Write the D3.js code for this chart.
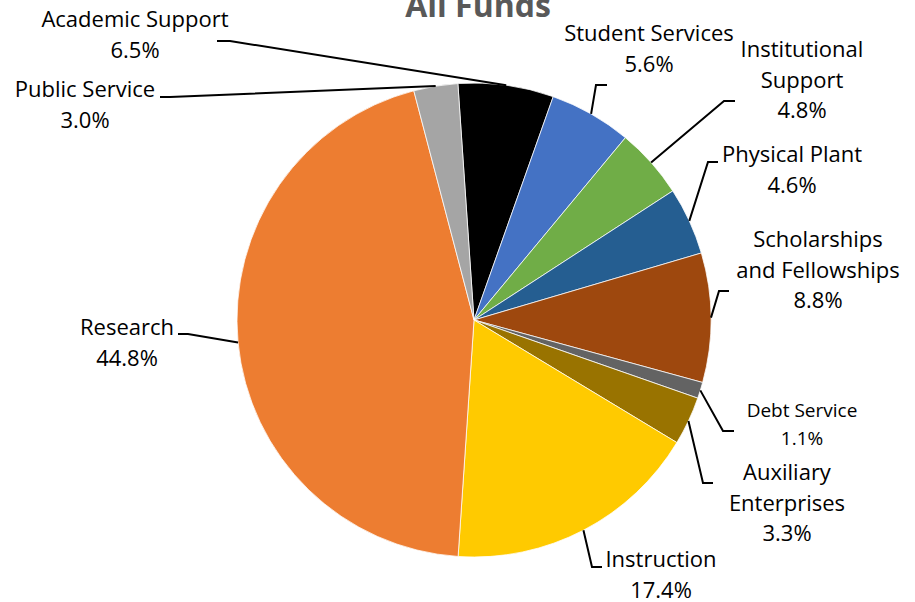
<!DOCTYPE html>
<html>
<head>
<meta charset="utf-8">
<script src="https://cdn.jsdelivr.net/npm/d3@7"></script>
<style>
  html, body { margin: 0; padding: 0; background: #fff; }
  svg { display: block; }
  text { font-family: "Open Sans", sans-serif; }
</style>
</head>
<body>
<svg id="chart" width="915" height="602"></svg>
<script>
// ---- data ----
const categories = ["Academic Support", "Student Services", "Institutional Support", "Physical Plant",
  "Scholarships and Fellowships", "Debt Service", "Auxiliary Enterprises", "Instruction", "Research", "Public Service"];
const values = [6.5, 5.6, 4.8, 4.6, 8.8, 1.1, 3.3, 17.4, 44.8, 3.0];
const labelLines = [["Academic Support"], ["Student Services"], ["Institutional", "Support"], ["Physical Plant"],
  ["Scholarships", "and Fellowships"], ["Debt Service"], ["Auxiliary", "Enterprises"], ["Instruction"], ["Research"], ["Public Service"]];
const colors = ["#000000", "#4472C4", "#70AD47", "#255E91", "#9E480E", "#636363", "#997300", "#FFCA00", "#ED7D31", "#A5A5A5"];
const title = "All Funds";

// ---- layout (positions only) ----
const cx = 474, cy = 320, R = 237;
const startDeg = -3.9;
// text center x, first baseline y, line height, font size, stub point, elbow point
const labelLayout = [
  { x: 135, y: 27, lh: 30.5, fs: 22, stub: [217, 41], elbow: [230, 41] },
  { x: 649, y: 41, lh: 30.5, fs: 22, stub: [607, 85], elbow: [596, 85] },
  { x: 802, y: 57, lh: 30.5, fs: 22, stub: [735, 101], elbow: [724, 101] },
  { x: 792, y: 162, lh: 30.5, fs: 22, stub: [718, 162], elbow: [708, 162] },
  { x: 818, y: 247, lh: 30.5, fs: 22, stub: [729, 291], elbow: [719, 291] },
  { x: 802, y: 417, lh: 28, fs: 19, stub: [734, 431], elbow: [723, 431] },
  { x: 787, y: 480, lh: 30.5, fs: 22, stub: [713, 483], elbow: [703, 483] },
  { x: 661, y: 567, lh: 30.5, fs: 22, stub: [602, 567], elbow: [592, 567] },
  { x: 127, y: 335, lh: 30.5, fs: 22, stub: [178, 334], elbow: [188, 334] },
  { x: 85, y: 97, lh: 30.5, fs: 22, stub: [160, 97], elbow: [170, 97] }
];

const svg = d3.select("#chart");

svg.append("text")
  .attr("x", 478).attr("y", 17)
  .attr("text-anchor", "middle")
  .attr("font-weight", "bold")
  .attr("font-size", 32)
  .attr("fill", "#595959")
  .text(title);

const data = categories.map((c, i) => ({ name: c, value: values[i], lines: labelLines[i], color: colors[i], lay: labelLayout[i] }));

const pie = d3.pie().sort(null).value(d => d.value)
  .startAngle(startDeg * Math.PI / 180)
  .endAngle(startDeg * Math.PI / 180 + 2 * Math.PI);
const arcs = pie(data);
const arc = d3.arc().innerRadius(0).outerRadius(R);

const g = svg.append("g").attr("transform", `translate(${cx},${cy})`);
g.selectAll("path.slice").data(arcs).enter().append("path")
  .attr("class", "slice")
  .attr("d", arc)
  .attr("fill", d => d.data.color)
  .attr("stroke", "#ffffff")
  .attr("stroke-width", 0.75);

// leader lines
const line = d3.line();
svg.selectAll("path.leader").data(arcs).enter().append("path")
  .attr("class", "leader")
  .attr("fill", "none")
  .attr("stroke", "#000")
  .attr("stroke-width", 2)
  .attr("d", d => {
    const mid = (d.startAngle + d.endAngle) / 2;
    const px = cx + R * Math.sin(mid), py = cy - R * Math.cos(mid);
    const L = d.data.lay;
    return line([L.stub, L.elbow, [px, py]]);
  });

// labels
const labels = svg.selectAll("text.lbl").data(arcs).enter().append("text")
  .attr("class", "lbl")
  .attr("text-anchor", "middle")
  .attr("fill", "#000")
  .attr("font-size", d => d.data.lay.fs);
labels.each(function (d) {
  const L = d.data.lay;
  const t = d3.select(this);
  const lines = d.data.lines.concat([d3.format(".1f")(d.data.value) + "%"]);
  lines.forEach((s, k) => {
    t.append("tspan").attr("x", L.x).attr("y", L.y + k * L.lh).text(s);
  });
});
</script>
</body>
</html>
